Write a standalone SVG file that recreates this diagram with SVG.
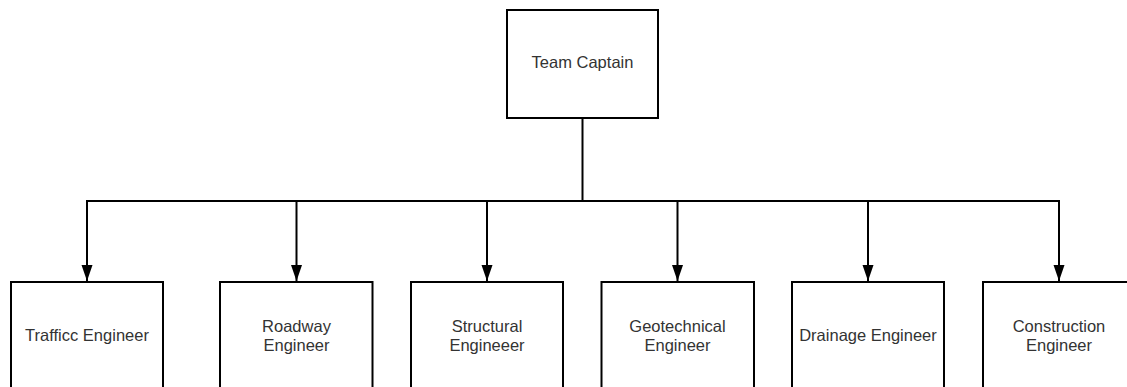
<svg xmlns="http://www.w3.org/2000/svg" width="1127" height="387" viewBox="0 0 1127 387">
<style>
.box{fill:#fff;stroke:#000;stroke-width:2}
.lbl{font-family:"Liberation Sans",Arial,sans-serif;font-size:16.5px;fill:#333;text-anchor:middle}
.con{fill:none;stroke:#000;stroke-width:2}
</style>
<defs>
<marker id="arr" markerUnits="userSpaceOnUse" markerWidth="16" markerHeight="12" refX="16" refY="6" orient="auto" viewBox="0 0 16 12">
<path d="M0,0.5 L16,6 L0,11.5 Z" fill="#000"/>
</marker>
</defs>
<rect width="1127" height="387" fill="#fff"/>
<g id="connectors">
<path class="con" d="M582.5,118 V201"/>
<path class="con" d="M87,266 V201 H1059 V266"/>
<path class="con" d="M87,201 V281" marker-end="url(#arr)"/>
<path class="con" d="M296.5,201 V281" marker-end="url(#arr)"/>
<path class="con" d="M487,201 V281" marker-end="url(#arr)"/>
<path class="con" d="M677.5,201 V281" marker-end="url(#arr)"/>
<path class="con" d="M868,201 V281" marker-end="url(#arr)"/>
<path class="con" d="M1059,201 V281" marker-end="url(#arr)"/>
</g>
<g id="team-captain">
<rect class="box" x="507" y="10" width="151" height="108"/>
<text class="lbl" x="582.5" y="68">Team Captain</text>
</g>
<g id="traffic-engineer">
<rect class="box" x="11" y="282" width="152" height="130"/>
<text class="lbl" x="87" y="341">Trafficc Engineer</text>
</g>
<g id="roadway-engineer">
<rect class="box" x="220" y="282" width="152.5" height="130"/>
<text class="lbl" x="296.5" y="331.5">Roadway</text>
<text class="lbl" x="296.5" y="351">Engineer</text>
</g>
<g id="structural-engineer">
<rect class="box" x="411" y="282" width="152" height="130"/>
<text class="lbl" x="487" y="331.5">Structural</text>
<text class="lbl" x="487" y="351">Engineeer</text>
</g>
<g id="geotechnical-engineer">
<rect class="box" x="601.5" y="282" width="152.5" height="130"/>
<text class="lbl" x="677.5" y="331.5">Geotechnical</text>
<text class="lbl" x="677.5" y="351">Engineer</text>
</g>
<g id="drainage-engineer">
<rect class="box" x="792" y="282" width="152" height="130"/>
<text class="lbl" x="868" y="341">Drainage Engineer</text>
</g>
<g id="construction-engineer">
<rect class="box" x="983" y="282" width="152" height="130"/>
<text class="lbl" x="1059" y="331.5">Construction</text>
<text class="lbl" x="1059" y="351">Engineer</text>
</g>
</svg>
